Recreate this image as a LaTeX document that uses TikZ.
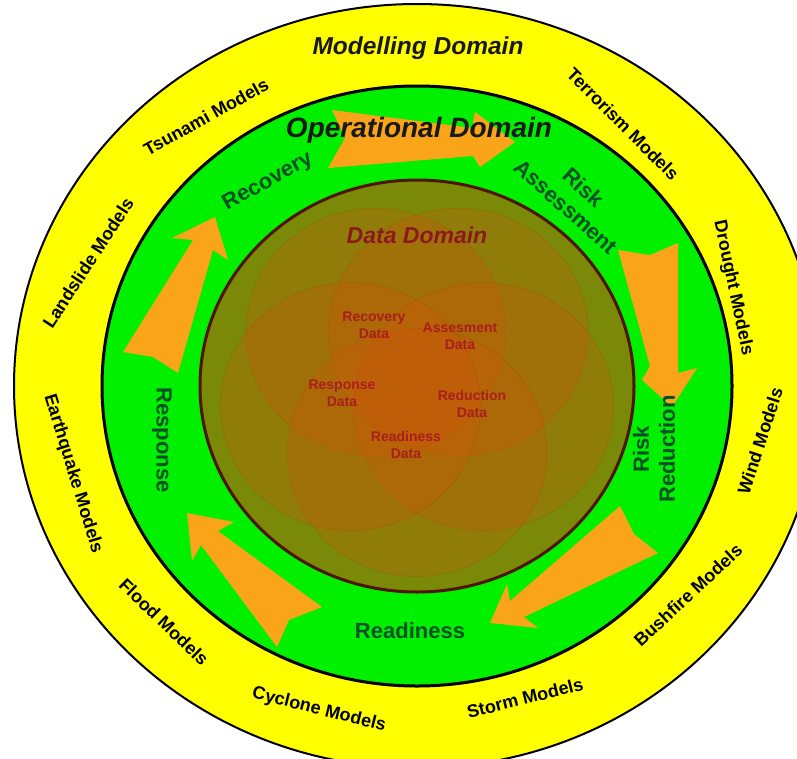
\documentclass[tikz,border=0pt]{standalone}
\usepackage{fontspec}
\setmainfont{Liberation Sans}
\definecolor{bandyellow}{RGB}{255,255,0}
\definecolor{bandgreen}{RGB}{0,240,0}
\definecolor{flowcol}{RGB}{250,165,25}
\definecolor{olivebase}{RGB}{122,138,8}
\definecolor{discorange}{RGB}{215,82,10}
\definecolor{discedge}{RGB}{150,70,10}
\definecolor{datared}{RGB}{170,30,30}
\definecolor{datatitle}{RGB}{140,25,30}
\definecolor{stagegreen}{RGB}{0,80,40}
\definecolor{dataedge}{RGB}{80,20,5}
\begin{document}
\begin{tikzpicture}[x=1pt,y=-1pt,
  model/.style={font=\fontsize{18}{20}\selectfont\bfseries, text=black, inner sep=0pt},
  stage/.style={font=\fontsize{22}{26}\selectfont\bfseries, text=stagegreen, align=center, inner sep=0pt},
  datalbl/.style={font=\fontsize{14}{17}\selectfont\bfseries, text=datared, align=center, inner sep=0pt},
  domaintitle/.style={font=\bfseries\itshape, inner sep=0pt},
  flow/.style={fill=flowcol, draw=none},
  disc/.style={fill=discorange, fill opacity=0.24, draw=discedge, draw opacity=0.25, line width=0.8pt}
]
\useasboundingbox (0,0) rectangle (797,758);
\fill[white] (0,0) rectangle (797,758);
\clip (0,0) rectangle (797,758);

% centre of the three nested domains
\coordinate (c) at (417,386);

% modelling domain (outer band)
\fill[bandyellow] (c) ellipse [x radius=403, y radius=382];
\draw[black, line width=2pt] (c) ellipse [x radius=403, y radius=382];

% operational domain (middle band)
\fill[bandgreen] (c) ellipse [x radius=315, y radius=300];
\draw[black, line width=3pt] (c) ellipse [x radius=315, y radius=300];

% cycle arrows in the operational band
\fill[flow] (332,110) -- (345,138) -- (328,168) -- (473,156) -- (480,167)
  -- (515,142) -- (475,112) -- (472,128) -- cycle;
\fill[flow] (618,250) -- (650,255) -- (678,243) -- (678,373) -- (697,368)
  -- (672,407) -- (642,380) -- (650,366) -- cycle;
\fill[flow] (620,506) -- (634,534) -- (658,553) -- (524,617) -- (538,628)
  -- (490,623) -- (507,584) -- (510,601) -- cycle;
\fill[flow] (187,513) -- (234,522) -- (218,531) -- (322,607) -- (289,620)
  -- (277,647) -- (201,545) -- (192,561) -- cycle;
\fill[flow] (215,217) -- (228,260) -- (213,250) -- (178,373) -- (153,357)
  -- (123,352) -- (193,240) -- (172,238) -- cycle;

% data domain (inner disc) with five overlapping data sets
\fill[olivebase] (c) ellipse [x radius=217, y radius=206];
\begin{scope}
  \clip (c) ellipse [x radius=217, y radius=206];
  \path[disc] (375.8,332.2) ellipse [x radius=130, y radius=124];
  \path[disc] (458.2,332.2) ellipse [x radius=130, y radius=124];
  \path[disc] (483.6,406.5) ellipse [x radius=130, y radius=124];
  \path[disc] (417,452.5) ellipse [x radius=130, y radius=124];
  \path[disc] (350.4,406.5) ellipse [x radius=130, y radius=124];
\end{scope}
\draw[dataedge, line width=3pt] (c) ellipse [x radius=217, y radius=206];

% domain titles
\node[domaintitle, font=\fontsize{24.5}{28}\selectfont\bfseries\itshape, text=black!90] (tmod) at (418,48) {Modelling Domain};
\node[domaintitle, font=\fontsize{28}{32}\selectfont\bfseries\itshape, text=black!90] (top) at (419,130) {Operational Domain};
\node[domaintitle, font=\fontsize{23}{26}\selectfont\bfseries\itshape, text=datatitle] (tdat) at (417,235) {Data Domain};

% model labels round the outer band
\node[model, rotate=57]  (m1)  at (88,263)  {Landslide Models};
\node[model, rotate=29]  (m2)  at (206,117) {Tsunami Models};
\node[model, rotate=-45] (m3)  at (623,124) {Terrorism Models};
\node[model, rotate=-78] (m4)  at (733,288) {Drought Models};
\node[model, rotate=72]  (m5)  at (760,441) {Wind Models};
\node[model, rotate=43]  (m6)  at (688,595) {Bushfire Models};
\node[model, rotate=14]  (m7)  at (525,698) {Storm Models};
\node[model, rotate=-14] (m8)  at (319,710) {Cyclone Models};
\node[model, rotate=-44] (m9)  at (164,622) {Flood Models};
\node[model, rotate=-73] (m10) at (73,474)  {Earthquake Models};

% stages of the operational cycle
\node[stage, rotate=29]  (s1) at (268,182) {Recovery};
\node[stage, rotate=-42] (s2) at (575,197) {Risk\\Assessment};
\node[stage, rotate=90]  (s3) at (654,449) {Risk\\Reduction};
\node[stage]             (s4) at (410,631) {Readiness};
\node[stage, rotate=-90] (s5) at (162,440) {Response};

% data sets
\node[datalbl] (d1) at (374,325) {Recovery\\Data};
\node[datalbl] (d2) at (460,336) {Assesment\\Data};
\node[datalbl] (d3) at (472,404) {Reduction\\Data};
\node[datalbl] (d4) at (406,445) {Readiness\\Data};
\node[datalbl] (d5) at (342,393) {Response\\Data};
\end{tikzpicture}
\end{document}
